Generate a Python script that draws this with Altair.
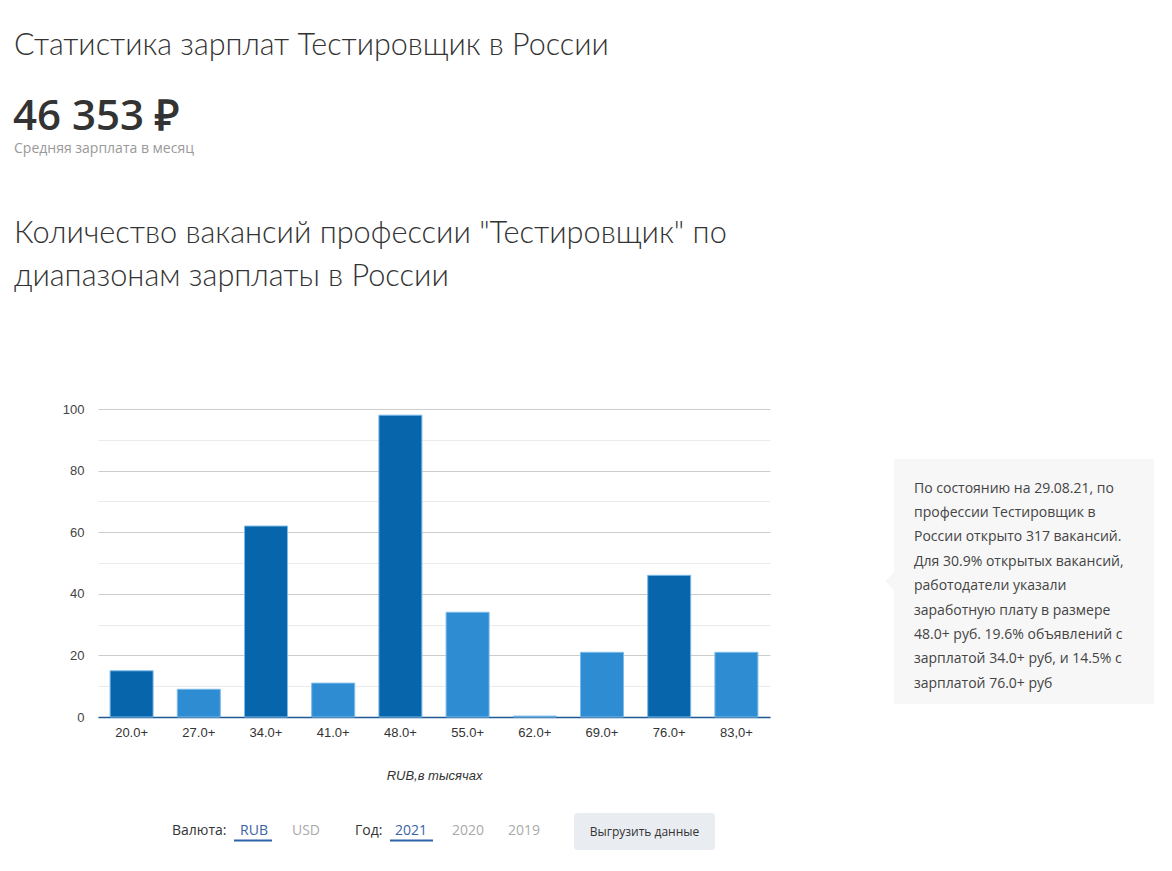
import altair as alt
import pandas as pd

# ---- data ----
categories = ["20.0+", "27.0+", "34.0+", "41.0+", "48.0+", "55.0+", "62.0+", "69.0+", "76.0+", "83,0+"]
vacancies = [15, 9, 62, 11, 98, 34, 0.3, 21, 46, 21]
highlight = [True, False, True, False, True, False, False, False, True, False]
y_ticks = [0, 10, 20, 30, 40, 50, 60, 70, 80, 90, 100]

title_main = "Статистика зарплат Тестировщик в России"
avg_salary = "46 353 ₽"
avg_label = "Средняя зарплата в месяц"
title_chart = ["Количество вакансий профессии \"Тестировщик\" по", "диапазонам зарплаты в России"]
note_lines = [
    "По состоянию на 29.08.21, по",
    "профессии Тестировщик в",
    "России открыто 317 вакансий.",
    "Для 30.9% открытых вакансий,",
    "работодатели указали",
    "заработную плату в размере",
    "48.0+ руб. 19.6% объявлений с",
    "зарплатой 34.0+ руб, и 14.5% с",
    "зарплатой 76.0+ руб",
]
x_title = "RUB,в тысячах"

df = pd.DataFrame({"cat": categories, "n": vacancies, "hi": highlight})

# ---- layout (page pixels) ----
W, H = 1172, 871
PL, PT = 98, 409          # plot origin
PW, PH = 672, 308         # plot size
FONT = "Open Sans"
LIGHT = "Lato"

one = alt.Data(values=[{"k": 0}])


def px(v):
    return alt.value(v - PL)


def py(v):
    return alt.value(v - PT)


def txt(text, x, y, size, color, weight=400, font=FONT, style="normal",
        align="left", baseline="alphabetic", lineHeight=None):
    kw = dict(fontSize=size, color=color, fontWeight=weight, font=font,
              fontStyle=style, align=align, baseline=baseline)
    if lineHeight is not None:
        kw["lineHeight"] = lineHeight
    return alt.Chart(one).mark_text(**kw).encode(x=px(x), y=py(y), text=alt.value(text))


def box(x1, y1, x2, y2, fill, radius=0):
    return alt.Chart(one).mark_rect(fill=fill, cornerRadius=radius).encode(
        x=px(x1), x2=px(x2), y=py(y1), y2=py(y2))


bars = alt.Chart(df).mark_bar(stroke="#7dbbe8", strokeWidth=1).encode(
    x=alt.X("cat:N", sort=categories,
            scale=alt.Scale(paddingInner=0.36, paddingOuter=0.18),
            axis=alt.Axis(title=x_title, titleFont="Arial", titleFontSize=13,
                          titleFontStyle="italic", titleFontWeight="normal",
                          titleColor="#333", titlePadding=30,
                          labelFont="Arial", labelFontSize=13, labelColor="#333",
                          labelAngle=0, labelPadding=9, ticks=False,
                          domainColor="#1f5a94", domainWidth=1.5, grid=False)),
    y=alt.Y("n:Q", scale=alt.Scale(domain=[0, 100], nice=False),
            axis=alt.Axis(title=None, values=y_ticks, ticks=False, domain=False,
                          labelFont="Arial", labelFontSize=13, labelColor="#444",
                          labelPadding=14,
                          labelExpr="datum.value % 20 === 0 ? datum.label : ''",
                          gridColor={"condition": {"test": "datum.value % 20 === 0",
                                                   "value": "#cccccc"},
                                     "value": "#ebebeb"},
                          gridWidth=1)),
    color=alt.Color("hi:N", scale=alt.Scale(domain=[True, False],
                                            range=["#0665ab", "#2e8cd3"]),
                    legend=None),
)

layers = [bars]

# titles
layers.append(txt(title_main, 14, 55, 30.5, "#333", weight=300, font=LIGHT))
layers.append(txt(avg_salary, 13, 130, 42, "#333", weight=600))
layers.append(txt(avg_label, 14, 153, 14, "#999"))
layers.append(txt(title_chart, 14, 243, 30.7, "#333", weight=300, font=LIGHT, lineHeight=43))

# note box
layers.append(box(894, 459, 1154, 704, "#f7f7f7"))
layers.append(alt.Chart(one).mark_point(shape="M0,-1 L-1,0 L0,1 Z", size=324,
                                         filled=True, fill="#f7f7f7", opacity=1,
                                         strokeWidth=0)
              .encode(x=px(894), y=py(581)))
layers.append(txt(note_lines, 914, 492.5, 14, "#444", weight=400, lineHeight=24.4))

# controls
layers.append(txt("Валюта:", 172, 835, 14, "#333"))
layers.append(txt("RUB", 254, 835, 14, "#3a63a6", align="center"))
layers.append(box(234, 839.5, 272, 841.5, "#2d62a8"))
layers.append(txt("USD", 306, 835, 14, "#aaa", align="center"))
layers.append(txt("Год:", 355, 835, 14, "#333"))
layers.append(txt("2021", 411, 835, 14, "#3a63a6", align="center"))
layers.append(box(390, 839.5, 433, 841.5, "#2d62a8"))
layers.append(txt("2020", 468, 835, 14, "#aaa", align="center"))
layers.append(txt("2019", 524, 835, 14, "#aaa", align="center"))
layers.append(box(574, 813, 715, 850, "#e9edf1", radius=3))
layers.append(txt("Выгрузить данные", 644.5, 836, 12, "#333", align="center"))

chart = alt.layer(*layers).properties(
    width=PW, height=PH,
    autosize=alt.AutoSizeParams(type="none"),
    padding={"left": PL, "top": PT, "right": W - PL - PW, "bottom": H - PT - PH},
).configure(background="white").configure_view(stroke=None)

chart.save("out.html", embed_options={"renderer": "svg", "actions": False})
